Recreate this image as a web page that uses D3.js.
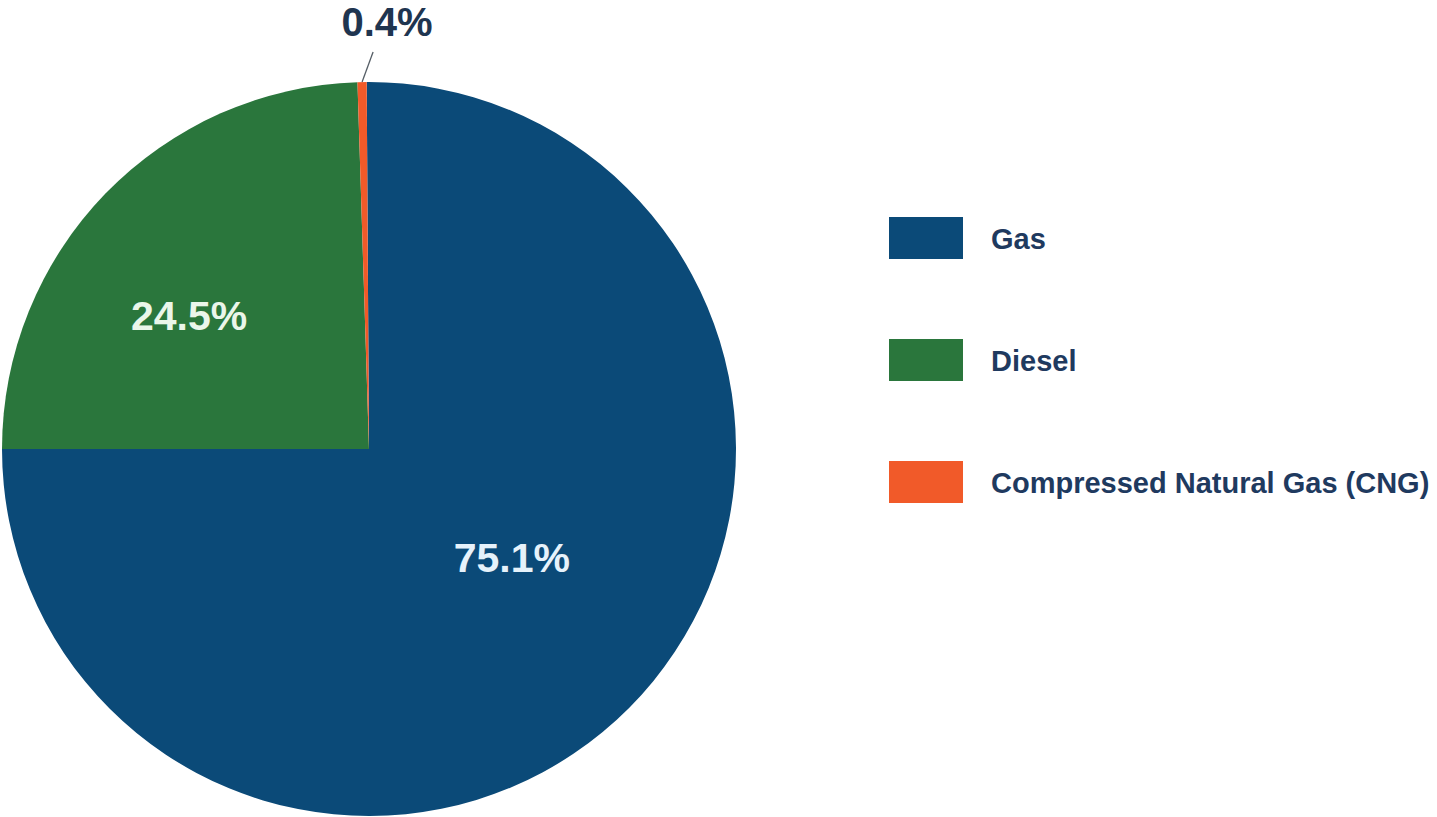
<!DOCTYPE html>
<html>
<head>
<meta charset="utf-8">
<script src="https://cdn.jsdelivr.net/npm/d3@7"></script>
<style>
  html, body { margin: 0; padding: 0; background: #ffffff; }
  svg { display: block; }
</style>
</head>
<body>
<svg id="chart" width="1437" height="817"></svg>
<script>
const categories = ["Gas", "Diesel", "Compressed Natural Gas (CNG)"];
const values = [75.1, 24.5, 0.4];
const valueLabels = ["75.1%", "24.5%", "0.4%"];
const colors = ["#0b4a78", "#2a763c", "#f15a29"];

const svg = d3.select("#chart");
const cx = 369, cy = 449, r = 367;
const font = "Liberation Sans, Arial, Helvetica, sans-serif";

// rotate slightly so the Gas/Diesel boundary is horizontal, as in the reference
const rot = -0.36 * Math.PI / 180;
const pie = d3.pie().sort(null).value(d => d)
  .startAngle(rot).endAngle(2 * Math.PI + rot)(values);
const arc = d3.arc().innerRadius(0).outerRadius(r);

const g = svg.append("g").attr("transform", `translate(${cx},${cy})`);
g.selectAll("path.slice")
  .data(pie)
  .join("path")
  .attr("class", "slice")
  .attr("d", arc)
  .attr("fill", (d, i) => colors[i]);

// inner labels (Gas, Diesel)
const inner = [
  { i: 0, rad: 0.49, off: -7.4 },
  { i: 1, rad: 0.61, off: -7.6 }
];
inner.forEach(o => {
  const d = pie[o.i];
  const a = (d.startAngle + d.endAngle) / 2 + o.off * Math.PI / 180;
  const x = Math.sin(a) * r * o.rad, y = -Math.cos(a) * r * o.rad;
  g.append("text")
    .attr("x", x).attr("y", y)
    .attr("text-anchor", "middle")
    .attr("dominant-baseline", "central")
    .attr("font-family", font)
    .attr("font-weight", "bold")
    .attr("font-size", 41)
    .attr("fill", o.i === 0 ? "#e6f2fb" : "#eaf6ea")
    .text(valueLabels[o.i]);
});

// outside label for CNG with leader line
{
  const d = pie[2];
  const a = (d.startAngle + d.endAngle) / 2;
  const p1 = [Math.sin(a) * r, -Math.cos(a) * r];
  const p2 = [p1[0] + 11, p1[1] - 30];
  g.append("line")
    .attr("x1", p1[0]).attr("y1", p1[1])
    .attr("x2", p2[0]).attr("y2", p2[1])
    .attr("stroke", "#555e66").attr("stroke-width", 1.3);
  g.append("text")
    .attr("x", p2[0] + 14).attr("y", p2[1] - 16)
    .attr("text-anchor", "middle")
    .attr("font-family", font)
    .attr("font-weight", "bold")
    .attr("font-size", 40)
    .attr("fill", "#1f3550")
    .text(valueLabels[2]);
}

// legend
const legendX = 889, legendY0 = 217, legendStep = 122;
const lg = svg.append("g");
categories.forEach((c, i) => {
  const y = legendY0 + i * legendStep;
  lg.append("rect")
    .attr("x", legendX).attr("y", y)
    .attr("width", 74).attr("height", 42)
    .attr("fill", colors[i]);
  lg.append("text")
    .attr("x", legendX + 102).attr("y", y + 22)
    .attr("dominant-baseline", "central")
    .attr("font-family", font)
    .attr("font-weight", "bold")
    .attr("font-size", 29)
    .attr("fill", "#1f3a5f")
    .text(c);
});
</script>
</body>
</html>
